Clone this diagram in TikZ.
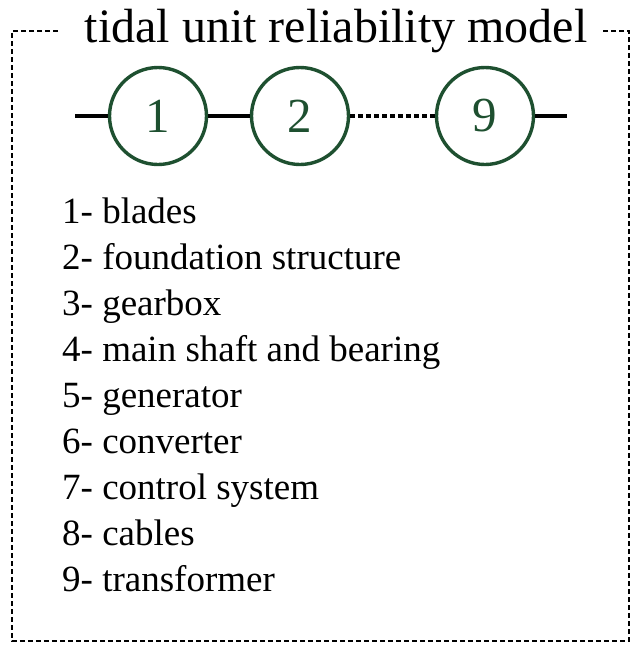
\documentclass[tikz,border=0pt]{standalone}
\usepackage{fontspec}
\setmainfont{Liberation Serif}

\begin{document}
\begin{tikzpicture}[x=1pt,y=-1pt]

\definecolor{unitgreen}{HTML}{1E5030}
\tikzset{
 frame/.style={line width=2.8pt,dash pattern=on 5pt off 3pt},
 heading/.style={anchor=base,inner sep=0pt,font=\fontsize{48}{56}\selectfont},
 part/.style={circle,draw=unitgreen,line width=3.4pt,text=unitgreen,
   minimum size=97pt,inner sep=0pt,font=\fontsize{49}{56}\selectfont},
 link/.style={line width=3.8pt},
 gap/.style={line width=3.4pt,dash pattern=on 5pt off 3pt},
 entry/.style={anchor=base west,inner sep=0pt,font=\fontsize{37}{44}\selectfont}
}

\useasboundingbox (0,0) rectangle (633,646);

% outer dashed frame, open where the heading sits
\draw[frame] (58,31) -- (12,31) -- (12,641) -- (629,641) -- (629,31) -- (603,31);
\node[heading] (title) at (336,42) {tidal unit reliability model};

% series chain of components
\foreach \n/\x in {1/158,2/300,9/485}
 \node[part] (c\n) at (\x,116) {\n};
\coordinate (in) at (75,116);
\coordinate (out) at (567,116);
\draw[link] (in) -- (c1) (c1) -- (c2) (c9) -- (out);
\draw[gap] (c2) -- (c9);

% legend
\foreach \t [count=\i] in {blades,foundation structure,gearbox,
  main shaft and bearing,generator,converter,control system,cables,transformer}
 \node[entry] (item\i) at (62,{223+46.1*(\i-1)}) {\i- \t};

\end{tikzpicture}
\end{document}
